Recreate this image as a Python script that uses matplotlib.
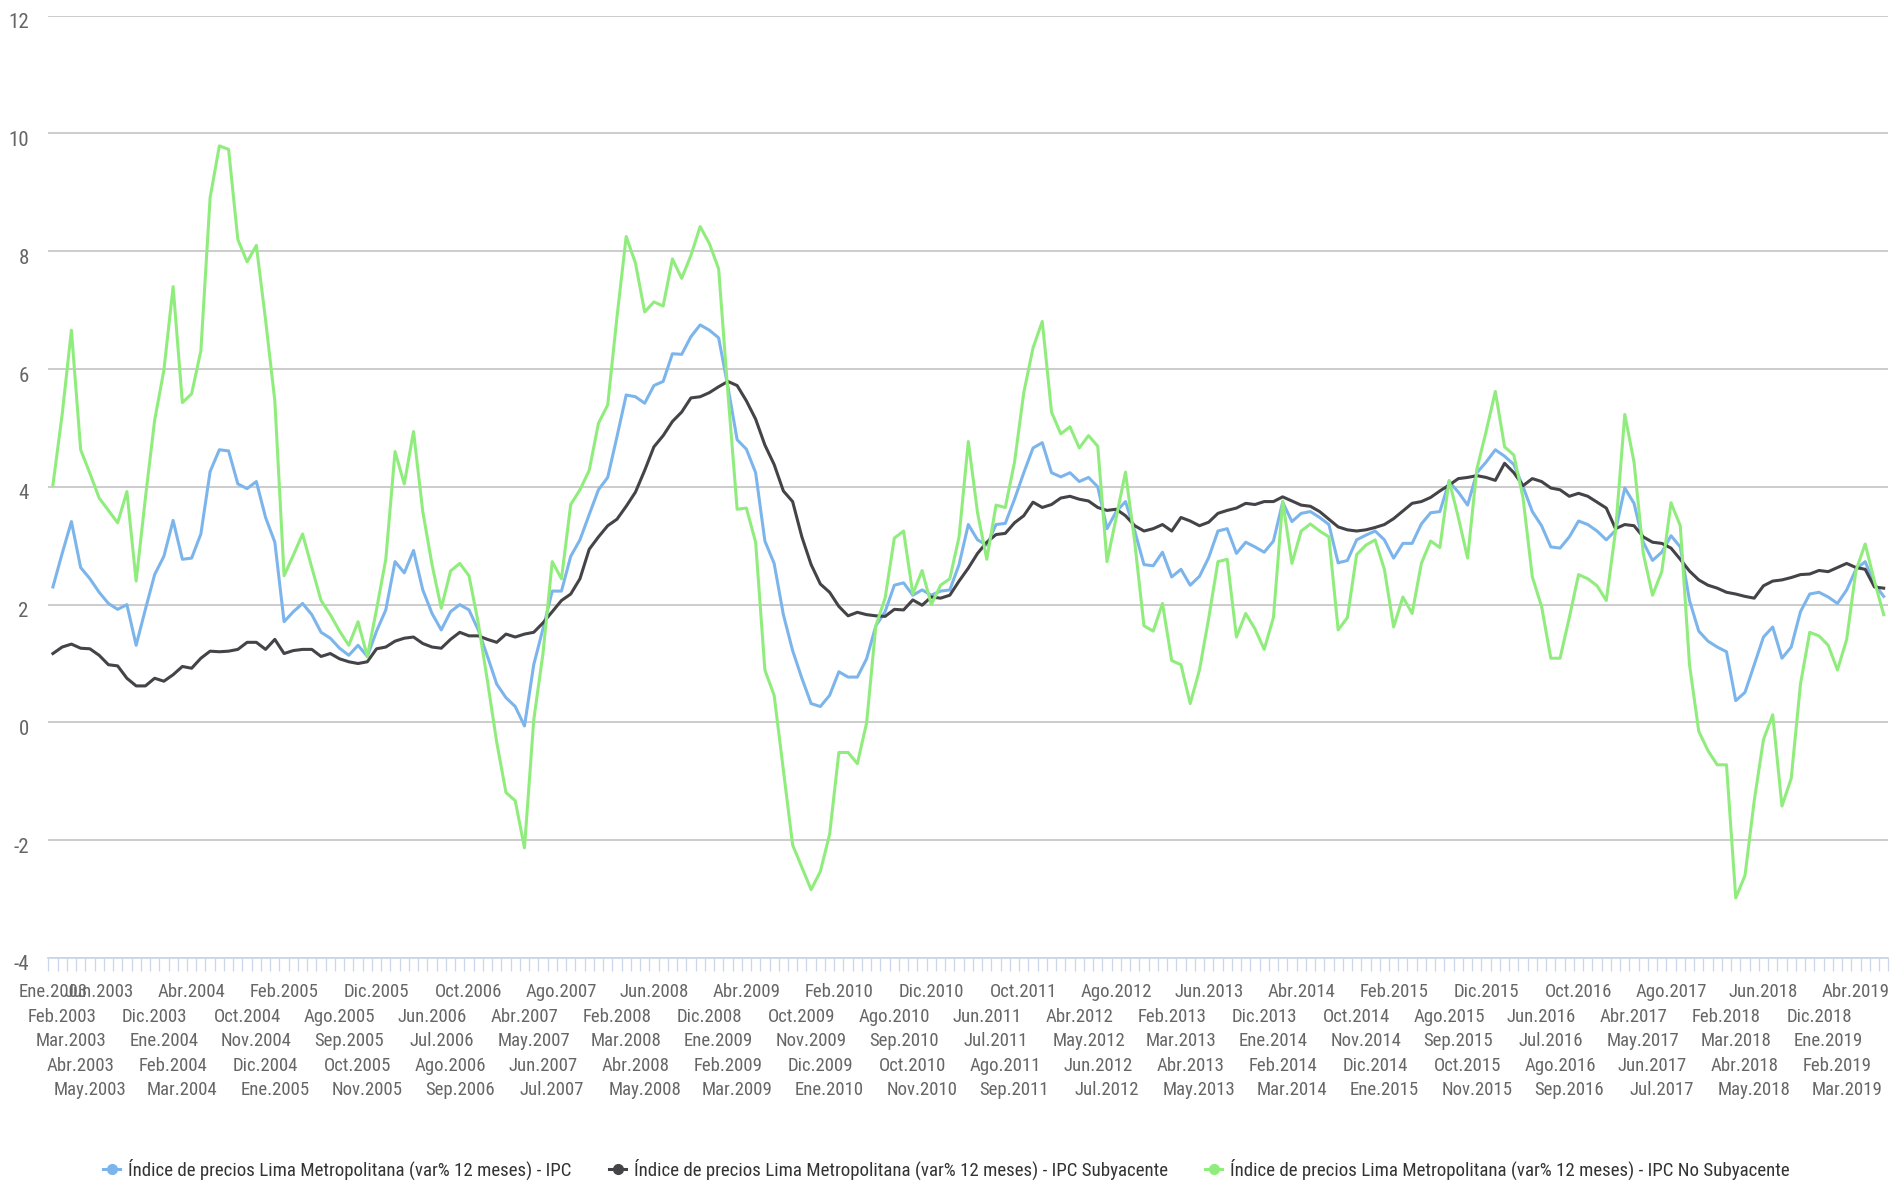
import os
import numpy as np
import matplotlib
matplotlib.use("Agg")
import matplotlib.pyplot as plt
from matplotlib import font_manager
from matplotlib.font_manager import FontProperties
from matplotlib.lines import Line2D
from matplotlib.transforms import ScaledTranslation

plt.rcParams['font.family'] = ['Liberation Sans', 'DejaVu Sans']
plt.rcParams['axes.unicode_minus'] = False

MONTHS = ["Ene", "Feb", "Mar", "Abr", "May", "Jun", "Jul", "Ago", "Sep", "Oct", "Nov", "Dic"]
categories = [f"{MONTHS[k % 12]}.{2003 + k // 12}" for k in range(199)]

# var% 12 meses, Ene.2003 .. Jul.2019
ipc = [
    2.30, 2.87, 3.41, 2.63, 2.44, 2.21, 2.02, 1.92, 2.00, 1.31,
    1.92, 2.51, 2.82, 3.43, 2.77, 2.79, 3.20, 4.26, 4.63, 4.61,
    4.05, 3.97, 4.09, 3.48, 3.06, 1.71, 1.88, 2.02, 1.83, 1.53,
    1.43, 1.26, 1.14, 1.31, 1.12, 1.55, 1.91, 2.73, 2.54, 2.92,
    2.25, 1.85, 1.57, 1.88, 2.00, 1.91, 1.57, 1.12, 0.65, 0.42,
    0.27, -0.06, 0.98, 1.59, 2.23, 2.23, 2.82, 3.10, 3.53, 3.95,
    4.16, 4.85, 5.56, 5.53, 5.42, 5.72, 5.79, 6.26, 6.25, 6.55,
    6.75, 6.66, 6.53, 5.70, 4.80, 4.64, 4.24, 3.08, 2.70, 1.83,
    1.22, 0.75, 0.32, 0.27, 0.46, 0.86, 0.77, 0.77, 1.08, 1.64,
    1.88, 2.33, 2.37, 2.16, 2.25, 2.16, 2.23, 2.25, 2.68, 3.36,
    3.10, 3.01, 3.36, 3.38, 3.79, 4.24, 4.66, 4.75, 4.24, 4.17,
    4.24, 4.09, 4.16, 4.00, 3.29, 3.58, 3.75, 3.25, 2.68, 2.66,
    2.89, 2.47, 2.60, 2.33, 2.48, 2.80, 3.25, 3.29, 2.87, 3.06,
    2.98, 2.89, 3.08, 3.74, 3.41, 3.55, 3.58, 3.48, 3.36, 2.71,
    2.75, 3.10, 3.18, 3.25, 3.10, 2.79, 3.04, 3.04, 3.37, 3.56,
    3.58, 4.09, 3.91, 3.69, 4.24, 4.42, 4.63, 4.52, 4.38, 4.00,
    3.58, 3.34, 2.98, 2.96, 3.15, 3.42, 3.36, 3.25, 3.10, 3.26,
    3.98, 3.72, 3.06, 2.75, 2.89, 3.17, 2.98, 2.07, 1.55, 1.38,
    1.28, 1.20, 0.37, 0.51, 0.98, 1.45, 1.62, 1.09, 1.28, 1.88,
    2.18, 2.21, 2.13, 2.02, 2.25, 2.60, 2.73, 2.35, 2.14,
]
ipc_sub = [
    1.17, 1.28, 1.33, 1.26, 1.25, 1.14, 0.98, 0.96, 0.75, 0.62,
    0.62, 0.75, 0.70, 0.81, 0.95, 0.92, 1.09, 1.21, 1.20, 1.21,
    1.24, 1.36, 1.36, 1.24, 1.41, 1.17, 1.22, 1.24, 1.24, 1.12,
    1.17, 1.08, 1.03, 1.00, 1.03, 1.25, 1.28, 1.38, 1.43, 1.45,
    1.34, 1.28, 1.26, 1.41, 1.53, 1.47, 1.47, 1.41, 1.36, 1.50,
    1.45, 1.50, 1.53, 1.69, 1.88, 2.07, 2.18, 2.44, 2.94, 3.15,
    3.34, 3.45, 3.67, 3.91, 4.28, 4.68, 4.87, 5.11, 5.27, 5.51,
    5.53, 5.60, 5.70, 5.79, 5.72, 5.46, 5.15, 4.71, 4.38, 3.93,
    3.75, 3.15, 2.68, 2.35, 2.21, 1.97, 1.81, 1.87, 1.83, 1.81,
    1.80, 1.92, 1.91, 2.08, 1.99, 2.13, 2.11, 2.16, 2.40, 2.62,
    2.87, 3.06, 3.19, 3.21, 3.39, 3.51, 3.74, 3.65, 3.70, 3.81,
    3.84, 3.79, 3.76, 3.65, 3.60, 3.62, 3.51, 3.34, 3.25, 3.29,
    3.36, 3.25, 3.48, 3.42, 3.34, 3.40, 3.55, 3.60, 3.64, 3.72,
    3.70, 3.75, 3.75, 3.83, 3.76, 3.69, 3.67, 3.58, 3.45, 3.32,
    3.27, 3.25, 3.27, 3.31, 3.36, 3.46, 3.59, 3.72, 3.75, 3.82,
    3.93, 4.03, 4.14, 4.16, 4.19, 4.16, 4.11, 4.40, 4.24, 4.02,
    4.14, 4.09, 3.98, 3.95, 3.84, 3.89, 3.84, 3.74, 3.64, 3.29,
    3.36, 3.34, 3.15, 3.06, 3.04, 2.96, 2.77, 2.57, 2.42, 2.33,
    2.28, 2.21, 2.18, 2.14, 2.11, 2.32, 2.40, 2.42, 2.46, 2.51,
    2.52, 2.58, 2.56, 2.63, 2.70, 2.63, 2.60, 2.30, 2.28,
]
ipc_no_sub = [
    4.03, 5.23, 6.66, 4.63, 4.23, 3.81, 3.60, 3.39, 3.92, 2.40,
    3.81, 5.13, 5.98, 7.40, 5.43, 5.58, 6.31, 8.91, 9.79, 9.73,
    8.20, 7.82, 8.10, 6.83, 5.46, 2.49, 2.84, 3.20, 2.63, 2.07,
    1.83, 1.55, 1.31, 1.71, 1.12, 1.92, 2.77, 4.60, 4.05, 4.94,
    3.58, 2.68, 1.94, 2.57, 2.70, 2.49, 1.69, 0.70, -0.34, -1.19,
    -1.33, -2.13, 0.04, 1.17, 2.73, 2.44, 3.70, 3.95, 4.28, 5.08,
    5.39, 6.88, 8.25, 7.80, 6.97, 7.14, 7.07, 7.87, 7.54, 7.93,
    8.42, 8.13, 7.70, 5.60, 3.62, 3.64, 3.06, 0.89, 0.46, -0.81,
    -2.08, -2.46, -2.84, -2.53, -1.90, -0.51, -0.51, -0.70, -0.01, 1.64,
    2.11, 3.13, 3.25, 2.18, 2.58, 2.00, 2.33, 2.44, 3.15, 4.77,
    3.56, 2.77, 3.69, 3.65, 4.42, 5.60, 6.36, 6.81, 5.27, 4.90,
    5.02, 4.66, 4.87, 4.69, 2.73, 3.48, 4.25, 3.06, 1.64, 1.55,
    2.02, 1.05, 0.98, 0.32, 0.89, 1.77, 2.73, 2.77, 1.45, 1.85,
    1.59, 1.24, 1.78, 3.76, 2.70, 3.25, 3.37, 3.25, 3.15, 1.57,
    1.78, 2.85, 3.01, 3.10, 2.60, 1.62, 2.13, 1.85, 2.70, 3.08,
    2.97, 4.11, 3.48, 2.79, 4.30, 4.94, 5.62, 4.68, 4.54, 3.81,
    2.47, 1.97, 1.09, 1.09, 1.78, 2.51, 2.44, 2.32, 2.07, 3.25,
    5.23, 4.42, 2.87, 2.16, 2.56, 3.73, 3.34, 0.98, -0.15, -0.48,
    -0.72, -0.72, -2.98, -2.60, -1.33, -0.29, 0.13, -1.42, -0.95, 0.65,
    1.53, 1.47, 1.31, 0.89, 1.41, 2.58, 3.03, 2.40, 1.83,
]

series_names = [
    "Índice de precios Lima Metropolitana (var% 12 meses) - IPC",
    "Índice de precios Lima Metropolitana (var% 12 meses) - IPC Subyacente",
    "Índice de precios Lima Metropolitana (var% 12 meses) - IPC No Subyacente",
]
COLORS = ["#7cb5ec", "#434348", "#90ed7d"]
LABEL_COLOR = "#666666"


def find_narrow_font():
    # the original uses a narrow sans; take one if the system has it
    keys = ["sansnarrow-regular", "robotocondensed-regular", "condensed-regular",
            "sanscondensed.ttf"]
    names = {os.path.basename(f.fname).lower(): f.fname for f in font_manager.fontManager.ttflist}
    for key in keys:
        for name, path in names.items():
            if key in name:
                return path
    return None


narrow = find_narrow_font()
if narrow:
    base_font = FontProperties(fname=narrow)
    scale = 1.0
else:
    base_font = FontProperties(family=['Liberation Sans', 'DejaVu Sans'])
    scale = 0.8


def font(size):
    f = base_font.copy()
    f.set_size(size * scale)
    return f


W, H = 1893, 1181
fig = plt.figure(figsize=(W / 100, H / 100), dpi=100)
ax = fig.add_axes([48.3 / W, 1 - 958 / H, (1888.3 - 48.3) / W, (958 - 15.7) / H])

x = np.arange(len(categories))
for vals, col in zip([ipc, ipc_sub, ipc_no_sub], COLORS):
    ax.plot(x, vals, color=col, lw=2.2, solid_joinstyle="round", zorder=3)

ax.set_xlim(-0.5, len(categories) - 0.5)
ax.set_ylim(-4, 12)
yt = np.arange(-4, 13, 2)
ax.set_yticks(yt, labels=[str(v) for v in yt])
ax.grid(axis="y", color="#c8c8c8", lw=1.3, zorder=0)
for s in ["top", "left", "right"]:
    ax.spines[s].set_visible(False)
ax.spines["bottom"].set_color("#ccd6eb")
ax.spines["bottom"].set_linewidth(1.3)
ax.spines["bottom"].set_zorder(2)

ax.tick_params(axis="y", length=0, pad=14, labelcolor=LABEL_COLOR)
for lab in ax.get_yticklabels():
    lab.set_fontproperties(font(15))
    lab.set_transform(lab.get_transform() + ScaledTranslation(0, -5 / 100, fig.dpi_scale_trans))

# category boundary ticks, staggered labels drawn by hand
ax.set_xticks(np.arange(-0.5, len(categories), 1), minor=True)
ax.set_xticks([])
ax.tick_params(axis="x", which="minor", length=9, width=0.9, color="#ccd6eb", direction="out")

shown = [0] + [i for i in range(len(categories)) if i % 10 in (1, 2, 3, 4, 5)]
for i in shown:
    row = i % 5
    ax.annotate(categories[i], xy=(i, 0), xycoords=ax.get_xaxis_transform(),
                xytext=(0, -(24.8 + 17.6 * row)), textcoords="offset points",
                ha="center", va="center", fontproperties=font(13.5), color=LABEL_COLOR,
                annotation_clip=False)

handles = [Line2D([], [], color=c, lw=2.2, marker="o", markersize=7) for c in COLORS]
fig.legend(handles, series_names, loc="center", bbox_to_anchor=(0.5, 1 - 1169 / H),
           ncol=3, frameon=False, prop=font(13.6), labelcolor="#333333",
           handlelength=0.9, handletextpad=0.4, columnspacing=2.0)

fig.savefig("out.png", dpi=100)
